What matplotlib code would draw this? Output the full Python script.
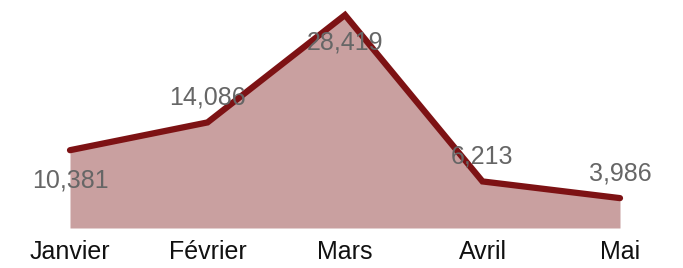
import numpy as np
import matplotlib
matplotlib.use('Agg')
import matplotlib.pyplot as plt

plt.rcParams['font.family'] = ['Liberation Sans', 'DejaVu Sans']

mois = ['Janvier', 'Février', 'Mars', 'Avril', 'Mai']
valeurs = [10381, 14086, 28419, 6213, 3986]
etiquettes = ['10,381', '14,086', '28,419', '6,213', '3,986']

# where each value label sits relative to its point (pixels)
decalage = [-30, 25, -28, 25, 25]

fig = plt.figure(figsize=(6.83, 2.68), dpi=100)
ax = fig.add_axes([0, 40/268., 1, 228/268.])

x = np.arange(len(mois))
ax.fill_between(x, 0, valeurs, color='#c9a0a0', linewidth=0)
ax.plot(x, valeurs, color='#7d1214', linewidth=4.5, solid_capstyle='round',
        solid_joinstyle='miter', clip_on=False)

for xi, v, lab, d in zip(x, valeurs, etiquettes, decalage):
    ax.annotate(lab, (xi, v), xytext=(0, d), textcoords='offset pixels',
                ha='center', va='center', fontsize=18, color='#666666')

ax.set_xlim(-70/137.5, 4 + 63/137.5)
ax.set_ylim(0, 30420)
ax.set_xticks(x)
ax.set_xticklabels(mois, fontsize=18, color='#111111')
ax.tick_params(axis='x', length=0, pad=8.5)
ax.set_yticks([])
for s in ax.spines.values():
    s.set_visible(False)

fig.savefig('out.png', dpi=100)
